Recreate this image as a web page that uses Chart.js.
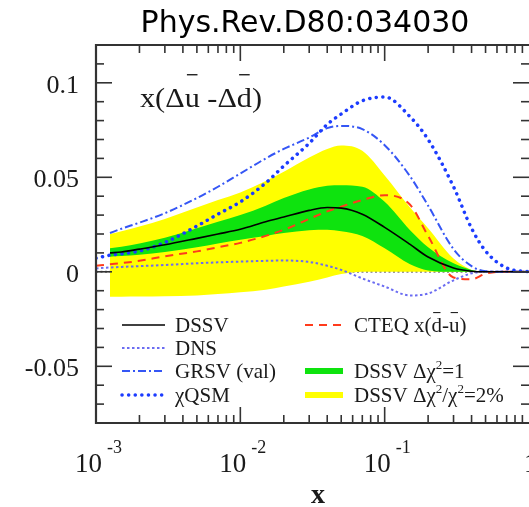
<!DOCTYPE html>
<html>
<head>
<meta charset="utf-8">
<script src="https://cdn.jsdelivr.net/npm/chart.js@4.4.1/dist/chart.umd.min.js"></script>
<style>
  html, body { margin: 0; padding: 0; background: #fff; }
  #wrap { width: 529px; height: 507px; }
</style>
</head>
<body>
<div id="wrap"><canvas id="seaChart" width="529" height="507"></canvas></div>
<script>
// values (x on log scale)
const xValues = [0.001, 0.00125, 0.0015, 0.002, 0.003, 0.005, 0.007, 0.01, 0.015, 0.02, 0.03, 0.04, 0.05, 0.07, 0.1, 0.15, 0.2, 0.3, 0.4, 0.5, 0.7, 1];

const dssv = [null, 0.0100, 0.0105, 0.0120, 0.0143, 0.0177, 0.0200, 0.0225, 0.0265, 0.0290, 0.0325, 0.0340, 0.0337, 0.0305, 0.0235, 0.0145, 0.0078, 0.0020, 0.0003, 0, 0, 0];
const greenUpper = [null, 0.0125, 0.0133, 0.0150, 0.0180, 0.0230, 0.0265, 0.0300, 0.0350, 0.0390, 0.0435, 0.0455, 0.0458, 0.0450, 0.0370, 0.0220, 0.0130, 0.0045, 0.0010, 0, null, null];
const greenLower = [null, 0.0080, 0.0083, 0.0090, 0.0105, 0.0130, 0.0150, 0.0170, 0.0190, 0.0205, 0.0220, 0.0222, 0.0215, 0.0190, 0.0125, 0.0040, 0.0007, 0, 0, 0, null, null];
const yellowUpper = [null, 0.0200, 0.0215, 0.0240, 0.0280, 0.0340, 0.0380, 0.0420, 0.0480, 0.0530, 0.0605, 0.0650, 0.0668, 0.0640, 0.0510, 0.0340, 0.0230, 0.0070, 0.0010, 0, null, null];
const yellowLower = [null, -0.0132, -0.0132, -0.0131, -0.0130, -0.0125, -0.0118, -0.0108, -0.0095, -0.0078, -0.0052, -0.0030, -0.0012, 0, 0, 0, 0, 0, 0, 0, null, null];
const dns = [0.0018, 0.0023, 0.0026, 0.0030, 0.0036, 0.0045, 0.0050, 0.0054, 0.0058, 0.0060, 0.0052, 0.0032, 0.0010, -0.0035, -0.0078, -0.0125, -0.0115, -0.0045, -0.0008, 0, 0, 0];
const grsv = [null, 0.0205, 0.0228, 0.0260, 0.0310, 0.0390, 0.0450, 0.0520, 0.0600, 0.0650, 0.0710, 0.0760, 0.0772, 0.0755, 0.0670, 0.0505, 0.0350, 0.0120, 0.0030, 0.0003, 0, 0];
const chiqsm = [0.0072, 0.0088, 0.0095, 0.0110, 0.0155, 0.0242, 0.0305, 0.0370, 0.0470, 0.0560, 0.0680, 0.0780, 0.0835, 0.0905, 0.0925, 0.0820, 0.0700, 0.0450, 0.0230, 0.0110, 0.0020, 0];
const cteq = [0.0032, 0.0040, 0.0046, 0.0058, 0.0082, 0.0108, 0.0130, 0.0153, 0.0190, 0.0222, 0.0280, 0.0320, 0.0345, 0.0380, 0.0405, 0.0355, 0.0190, -0.0030, -0.0040, -0.0010, 0, 0];
const zeroX = [0.001, 1];
const zeroY = [0, 0];

const xTickValues = [0.001, 0.01, 0.1, 1];
const xTickExps = ["-3", "-2", "-1", ""];
const yTickValues = [0.1, 0.05, 0, -0.05];
const yTickLabels = ["0.1", "0.05", "0", "-0.05"];

const SERIF = "'Liberation Serif', 'Times New Roman', serif";

function pts(xs, ys) {
  return xs.map((x, i) => ({ x: x, y: ys[i] }));
}

// draws text; "~c" puts a bar over c, "^c" makes c a superscript
function rich(ctx, str, x, y, size, opts) {
  opts = opts || {};
  const sx = opts.sx || 1, barH = opts.barH || 0.95;
  ctx.save();
  ctx.translate(x, y);
  ctx.scale(sx, 1);
  ctx.textBaseline = "alphabetic";
  ctx.textAlign = "left";
  let cx = 0;
  for (let i = 0; i < str.length; i++) {
    let ch = str[i], bar = false, sup = false;
    if (ch === "~") { bar = true; ch = str[++i]; }
    else if (ch === "^") { sup = true; ch = str[++i]; }
    const fs = sup ? size * 0.62 : size;
    ctx.font = fs + "px " + SERIF;
    const w = ctx.measureText(ch).width;
    ctx.fillText(ch, cx, sup ? -size * 0.45 : 0);
    if (bar) ctx.fillRect(cx + w * 0.15, -size * barH, w * 0.7, Math.max(1, size * 0.05));
    cx += w;
  }
  ctx.restore();
}

const lineBase = { pointRadius: 0, fill: false, cubicInterpolationMode: "monotone" };

const datasets = [
  Object.assign({}, lineBase, { label: "zero", data: pts(zeroX, zeroY), borderColor: "#7a7a7a", borderWidth: 2, borderDash: [2, 2.5], order: 10 }),
  Object.assign({}, lineBase, { label: "DSSV \u0394\u03c7^2/\u03c7^2=2%", data: pts(xValues, yellowUpper), borderColor: "rgba(0,0,0,0)", backgroundColor: "#ffff00", fill: "+1", order: 9 }),
  Object.assign({}, lineBase, { label: "yellow low", data: pts(xValues, yellowLower), borderColor: "rgba(0,0,0,0)", order: 8 }),
  Object.assign({}, lineBase, { label: "DSSV \u0394\u03c7^2=1", data: pts(xValues, greenUpper), borderColor: "rgba(0,0,0,0)", backgroundColor: "#0ee30e", fill: "+1", order: 7 }),
  Object.assign({}, lineBase, { label: "green low", data: pts(xValues, greenLower), borderColor: "rgba(0,0,0,0)", order: 6 }),
  Object.assign({}, lineBase, { label: "CTEQ x(~d-~u)", data: pts(xValues, cteq), borderColor: "#ff3b1c", borderWidth: 2, borderDash: [8, 6], order: 5 }),
  Object.assign({}, lineBase, { label: "DNS", data: pts(xValues, dns), borderColor: "#6b6cf2", borderWidth: 2, borderDash: [2.5, 2.5], order: 4 }),
  Object.assign({}, lineBase, { label: "GRSV (val)", data: pts(xValues, grsv), borderColor: "#3556f5", borderWidth: 2, borderDash: [8, 3, 2, 3], order: 3 }),
  Object.assign({}, lineBase, { label: "\u03c7QSM", data: pts(xValues, chiqsm), borderColor: "#1c3cff", borderWidth: 3.5, borderDash: [0.1, 6.5], borderCapStyle: "round", order: 2 }),
  Object.assign({}, lineBase, { label: "DSSV", data: pts(xValues, dssv), borderColor: "#000000", borderWidth: 1.6, order: 1 })
];

const framePlugin = {
  id: "paperFrame",
  afterDraw(chart) {
    const ctx = chart.ctx;
    const xs = chart.scales.x, ys = chart.scales.y;
    const { left, right, top, bottom } = chart.chartArea;
    ctx.save();
    ctx.strokeStyle = "#333";
    ctx.lineWidth = 1.6;
    ctx.setLineDash([]);
    const seg = (a, b, c, d) => { ctx.beginPath(); ctx.moveTo(a, b); ctx.lineTo(c, d); ctx.stroke(); };
    // log ticks top and bottom
    for (let d = -3; d < 0; d++) {
      for (let m = 1; m <= 9; m++) {
        const px = xs.getPixelForValue(m * Math.pow(10, d));
        const len = m === 1 ? 16 : 8;
        seg(px, bottom, px, bottom - len);
        seg(px, top, px, top + len);
      }
    }
    // y ticks left and right
    for (let k = -8; k <= 12; k++) {
      const py = ys.getPixelForValue(k / 100);
      const len = k % 5 === 0 ? 16 : 8;
      seg(left, py, left + len, py);
      seg(right, py, right - len, py);
    }
    // frame
    ctx.lineWidth = 2.2;
    ctx.beginPath();
    ctx.moveTo(right + 2, top); ctx.lineTo(left, top); ctx.lineTo(left, bottom); ctx.lineTo(right + 2, bottom);
    ctx.stroke();

    // tick labels
    ctx.fillStyle = "#1a1a1a";
    ctx.textBaseline = "alphabetic";
    yTickValues.forEach((v, i) => {
      const py = ys.getPixelForValue(v);
      ctx.font = "26px " + SERIF;
      ctx.textAlign = "right";
      ctx.fillText(yTickLabels[i], 79, py + 10);
    });
    xTickValues.forEach((v, i) => {
      const px = xs.getPixelForValue(v);
      ctx.font = "27px " + SERIF;
      if (xTickExps[i]) {
        ctx.textAlign = "right";
        ctx.fillText("10", px + 6, 472);
        ctx.font = "18px " + SERIF;
        ctx.textAlign = "left";
        ctx.fillText(xTickExps[i], px + 11, 453);
      } else {
        ctx.textAlign = "left";
        ctx.fillText("1", px - 5, 472);
      }
    });
    // axis title
    ctx.font = "bold 28px " + SERIF;
    ctx.textAlign = "center";
    ctx.fillText("x", 318, 503);

    // quantity label inside the frame
    rich(ctx, "x(\u0394~u -\u0394~d)", 140, 107, 27, { sx: 1.12, barH: 1.22 });

    // page title
    ctx.font = "30px 'DejaVu Sans', sans-serif";
    ctx.textAlign = "center";
    ctx.fillStyle = "#000";
    ctx.fillText("Phys.Rev.D80:034030", 305, 32);
    ctx.restore();
  }
};

const legendPlugin = {
  id: "paperLegend",
  afterDraw(chart) {
    const ctx = chart.ctx;
    const ds = chart.data.datasets;
    const rows = [325, 348, 371, 395];
    const cols = [{ x0: 122, x1: 165, tx: 175 }, { x0: 305, x1: 343, tx: 354 }];
    // [dataset index, column, row]
    const items = [[9, 0, 0], [6, 0, 1], [7, 0, 2], [8, 0, 3], [5, 1, 0], [3, 1, 2], [1, 1, 3]];
    items.forEach(([i, c, r]) => {
      const d = ds[i], col = cols[c], y = rows[r];
      ctx.save();
      ctx.beginPath();
      ctx.moveTo(col.x0, y);
      ctx.lineTo(col.x1, y);
      if (d.fill) {
        ctx.strokeStyle = d.backgroundColor;
        ctx.lineWidth = 6;
        ctx.setLineDash([]);
      } else {
        ctx.strokeStyle = d.borderColor;
        ctx.lineWidth = d.borderWidth;
        ctx.setLineDash(d.borderDash || []);
        ctx.lineCap = d.borderCapStyle || "butt";
      }
      ctx.stroke();
      ctx.restore();
      ctx.fillStyle = "#1a1a1a";
      rich(ctx, d.label, col.tx, y + 7, 21, { barH: 0.95 });
    });
  }
};

new Chart(document.getElementById("seaChart").getContext("2d"), {
  type: "line",
  data: { datasets: datasets },
  options: {
    responsive: false,
    animation: false,
    devicePixelRatio: 1,
    layout: { padding: { left: 96, top: 45, right: 0, bottom: 84 } },
    scales: {
      x: { type: "logarithmic", min: 0.001, max: 1, display: false },
      y: { type: "linear", min: -0.08, max: 0.12, display: false }
    },
    plugins: {
      legend: { display: false },
      tooltip: { enabled: false }
    }
  },
  plugins: [framePlugin, legendPlugin]
});
</script>
</body>
</html>
